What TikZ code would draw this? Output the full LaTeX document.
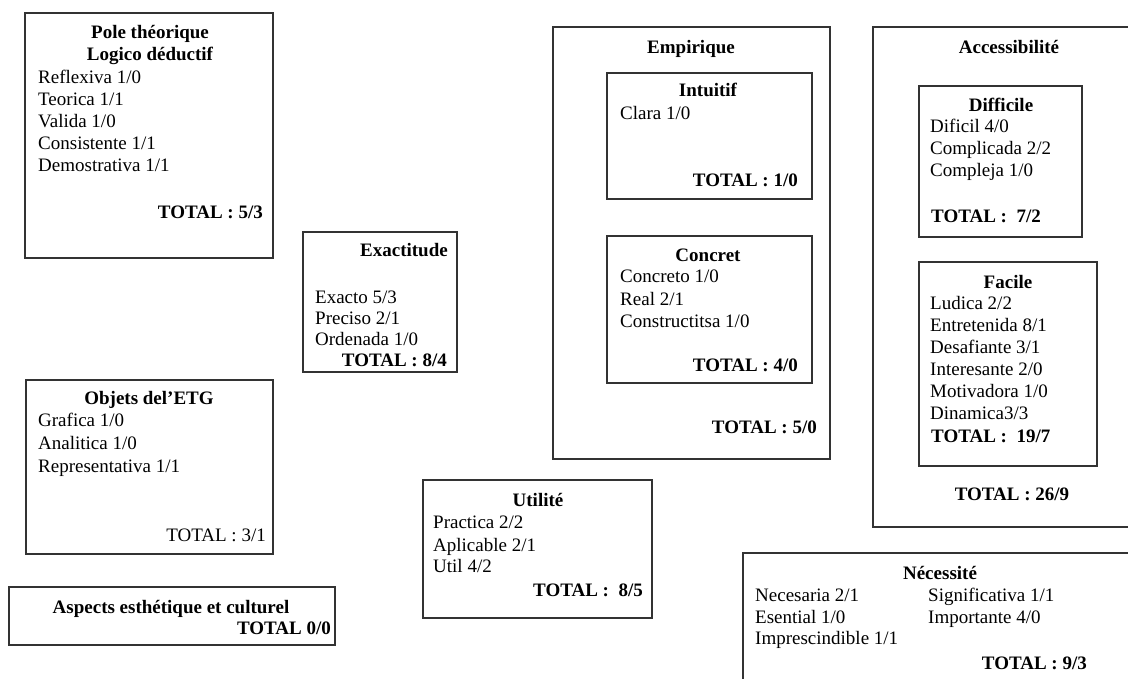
\documentclass[tikz,border=0pt]{standalone}
\usepackage{fontspec}
\setmainfont{Liberation Serif}
\newcommand\fs{\fontsize{19}{22}\selectfont}
\begin{document}
\begin{tikzpicture}[x=1pt,y=-1pt,
  box/.style={draw=black!80, line width=1.3pt, inner sep=0pt, outer sep=0pt, anchor=north west},
  txt/.style={inner sep=0pt, anchor=base west, font=\fs},
  ttl/.style={inner sep=0pt, anchor=base, font=\fs\bfseries},
  tot/.style={inner sep=0pt, anchor=base east, font=\fs\bfseries},
  totl/.style={inner sep=0pt, anchor=base west, font=\fs\bfseries},
  totc/.style={inner sep=0pt, anchor=base, font=\fs\bfseries}]
\useasboundingbox (0,0) rectangle (1128,678);
\clip (0,0) rectangle (1128,678);
\fill[white] (0,0) rectangle (1128,678);

% Pole theorique
\node[box, minimum width=248pt, minimum height=245pt] (pole) at (25,13) {};
\node[ttl] (poleT1) at (150,38) {Pole théorique};
\node[ttl] (poleT2) at (150,60) {Logico déductif};
\foreach \t [count=\i] in {Reflexiva 1/0, Teorica 1/1, Valida 1/0, Consistente 1/1, Demostrativa 1/1}
  \node[txt] (pole\i) at (38,{61+22*\i}) {\t};
\node[tot] (poleTot) at (263,218) {TOTAL : 5/3};

% Exactitude
\node[box, minimum width=154pt, minimum height=140pt] (exact) at (303,232) {};
\node[ttl] (exactT) at (404,256) {Exactitude};
\foreach \t [count=\i] in {Exacto 5/3, Preciso 2/1, Ordenada 1/0}
  \node[txt] (exact\i) at (315,{282+21*\i}) {\t};
\node[tot] (exactTot) at (447,366) {TOTAL : 8/4};

% Empirique
\node[box, minimum width=277pt, minimum height=432pt] (emp) at (553,27) {};
\node[ttl] (empT) at (691,53) {Empirique};
\node[box, minimum width=205pt, minimum height=126pt] (intu) at (607,73) {};
\node[ttl] (intuT) at (708,96) {Intuitif};
\node[txt] (intu1) at (620,119) {Clara 1/0};
\node[tot] (intuTot) at (798,186) {TOTAL : 1/0};
\node[box, minimum width=205pt, minimum height=147pt] (conc) at (607,236) {};
\node[ttl] (concT) at (708,261) {Concret};
\foreach \t [count=\i] in {Concreto 1/0, Real 2/1, Constructitsa 1/0}
  \node[txt] (conc\i) at (620,{260+22.5*\i}) {\t};
\node[tot] (concTot) at (798,371) {TOTAL : 4/0};
\node[tot] (empTot) at (817,433) {TOTAL : 5/0};

% Accessibilite
\node[box, minimum width=270pt, minimum height=500pt] (acc) at (873,27) {};
\node[ttl] (accT) at (1009,53) {Accessibilité};
\node[box, minimum width=163pt, minimum height=151pt] (diff) at (919,86) {};
\node[ttl] (diffT) at (1001,111) {Difficile};
\foreach \t [count=\i] in {Dificil 4/0, Complicada 2/2, Compleja 1/0}
  \node[txt] (diff\i) at (930,{110+22*\i}) {\t};
\node[totl] (diffTot) at (931,222) {TOTAL :\ \ 7/2};
\node[box, minimum width=178pt, minimum height=204pt] (fac) at (919,262) {};
\node[ttl] (facT) at (1008,288) {Facile};
\foreach \t [count=\i] in {Ludica 2/2, Entretenida 8/1, Desafiante 3/1, Interesante 2/0, Motivadora 1/0, Dinamica3/3}
  \node[txt] (fac\i) at (930,{287+22*\i}) {\t};
\node[totl] (facTot) at (931,442) {TOTAL :\ \ 19/7};
\node[totc] (accTot) at (1012,500) {TOTAL : 26/9};

% Objets de l'ETG
\node[box, minimum width=247pt, minimum height=174pt] (obj) at (26,380) {};
\node[ttl] (objT) at (149,404) {Objets del’ETG};
\foreach \t [count=\i] in {Grafica 1/0, Analitica 1/0, Representativa 1/1}
  \node[txt] (obj\i) at (38,{403+23*\i}) {\t};
\node[txt, anchor=base east] (objTot) at (266,541) {TOTAL : 3/1};

% Aspects
\node[box, minimum width=326pt, minimum height=58pt] (asp) at (9,587) {};
\node[ttl] (aspT) at (171,613) {Aspects esthétique et culturel};
\node[tot] (aspTot) at (331,634) {TOTAL 0/0};

% Utilite
\node[box, minimum width=229pt, minimum height=138pt] (util) at (423,480) {};
\node[ttl] (utilT) at (538,506) {Utilité};
\node[txt] (util1) at (433,528) {Practica 2/2};
\node[txt] (util2) at (433,551) {Aplicable 2/1};
\node[txt] (util3) at (433,572) {Util 4/2};
\node[tot] (utilTot) at (643,596) {TOTAL :\ \ 8/5};

% Necessite
\node[box, minimum width=400pt, minimum height=150pt] (nec) at (743,553) {};
\node[ttl] (necT) at (940,579) {Nécessité};
\node[txt] (nec1) at (755,601) {Necesaria 2/1};
\node[txt] (nec2) at (928,601) {Significativa 1/1};
\node[txt] (nec3) at (755,623) {Esential 1/0};
\node[txt] (nec4) at (928,623) {Importante 4/0};
\node[txt] (nec5) at (755,644) {Imprescindible 1/1};
\node[tot] (necTot) at (1087,669) {TOTAL : 9/3};
\end{tikzpicture}
\end{document}
